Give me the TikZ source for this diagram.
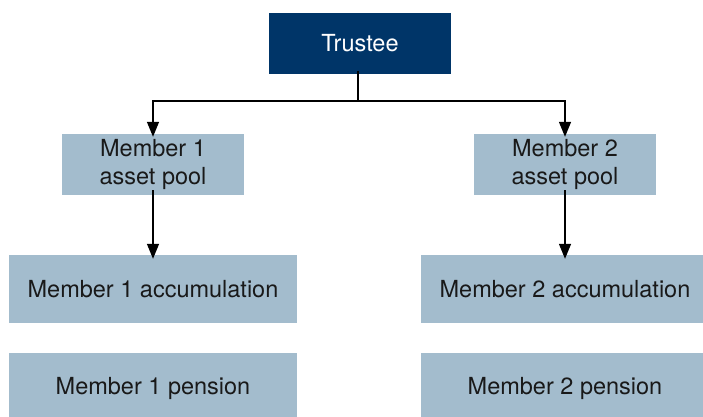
\documentclass[tikz,border=0pt]{standalone}
\usepackage{fontspec}
\setmainfont{TeX Gyre Heros}
\usetikzlibrary{arrows.meta}
\definecolor{navy}{RGB}{0,53,104}
\definecolor{pale}{RGB}{163,188,205}
\begin{document}
\begin{tikzpicture}[x=1pt,y=-1pt,
  dark/.style={fill=navy,text=white,inner sep=0pt,font=\fontsize{23.5}{27}\selectfont},
  light/.style={fill=pale,text=black!90,inner sep=0pt,align=center,font=\fontsize{23.5}{27.5}\selectfont},
  conn/.style={line width=1.4pt,-{Triangle[length=15pt,width=12pt]}},
  plain/.style={line width=1.4pt}]
\useasboundingbox (0,0) rectangle (703,416);
\node[dark,minimum width=182pt,minimum height=61pt] (t) at (360,43.5) {Trustee};
\node[light,minimum width=182pt,minimum height=61pt] (p1) at (153,164.5) {Member 1\\asset pool};
\node[light,minimum width=182pt,minimum height=61pt] (p2) at (565,164.5) {Member 2\\asset pool};
\node[light,minimum width=288pt,minimum height=68pt] (a1) at (153,289) {Member 1 accumulation};
\node[light,minimum width=288pt,minimum height=68pt] (a2) at (565,289) {Member 2 accumulation};
\node[light,minimum width=288pt,minimum height=70pt] (n1) at (153,388) {Member 1 pension};
\node[light,minimum width=288pt,minimum height=70pt] (n2) at (565,388) {Member 2 pension};
\coordinate (j) at (358,101);
\draw[plain] ([yshift=3pt]t.south -| j) -- (j);
\draw[conn] (j) -| ([yshift=-3pt]p1.north);
\draw[conn] (j) -| ([yshift=-3pt]p2.north);
\draw[conn] ([yshift=5pt]p1.south) -- ([yshift=-4pt]a1.north);
\draw[conn] ([yshift=5pt]p2.south) -- ([yshift=-4pt]a2.north);
\end{tikzpicture}
\end{document}
